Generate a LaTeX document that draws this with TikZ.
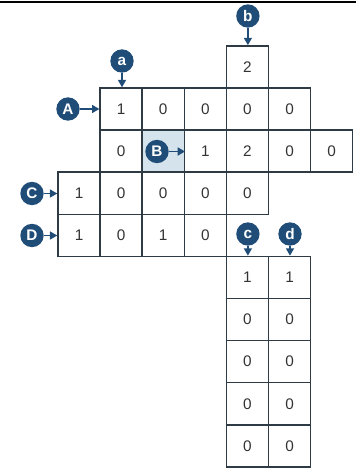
\documentclass[tikz,border=0pt]{standalone}
\usepackage{fontspec}
\setmainfont{Liberation Sans}
\usetikzlibrary{arrows.meta}
\definecolor{navy}{HTML}{1F4D78}
\definecolor{gridline}{HTML}{2E3A44}
\definecolor{shade}{HTML}{D5E3EC}
\definecolor{digit}{HTML}{333333}
\tikzset{
  cell/.style={draw=gridline, line width=1.1pt, fill=white, minimum width=31.575pt, minimum height=31.575pt, inner sep=0pt, text=digit, font=\fontsize{11.5}{12}\selectfont},
  lbl/.style={circle, fill=navy, text=white, minimum size=17.5pt, inner sep=0pt, font=\bfseries\fontsize{11.5}{11.5}\selectfont},
  ptr/.style={navy, line width=1.1pt, -{Triangle[length=5.5pt,width=6pt]}}
}
\begin{document}
\begin{tikzpicture}[x=0.75pt,y=-0.75pt]
\useasboundingbox (0,0) rectangle (356,468);
\draw[line width=1.9pt] (0,2) -- (356,2);
% row A
\foreach \v [count=\i] in {1,0,0,0,0}
  \node[cell] (A\i) at ({58+42.1*(\i+0.5)},{88+42.1*0.5}) {\v};
% cell b
\node[cell] (bb) at ({58+42.1*4.5},{88-42.1*0.5}) {2};
% row B
\foreach \i/\v in {1/0,3/1,4/2,5/0,6/0}
  \node[cell] (B\i) at ({58+42.1*(\i+0.5)},{88+42.1*1.5}) {\v};
\node[cell, fill=shade] (B2) at ({58+42.1*2.5},{88+42.1*1.5}) {};
% row C
\foreach \v [count=\i from 0] in {1,0,0,0,0}
  \node[cell] (C\i) at ({58+42.1*(\i+0.5)},{88+42.1*2.5}) {\v};
% row D
\foreach \v [count=\i from 0] in {1,0,1,0}
  \node[cell] (D\i) at ({58+42.1*(\i+0.5)},{88+42.1*3.5}) {\v};
% columns c and d
\foreach \v [count=\i] in {1,0,0,0,0}{
  \node[cell] (c\i) at ({58+42.1*4.5},{88+42.1*(\i+3.5)}) {\v};
  \node[cell] (d\i) at ({58+42.1*5.5},{88+42.1*(\i+3.5)}) {\v};
}
% labels
\node[lbl] (la) at (122,61) {a};
\node[lbl] (lb) at (247.9,16) {b};
\node[lbl] (lA) at (68,109) {A};
\node[lbl] (lB) at (157,151.5) {B};
\node[lbl] (lC) at (32,193.5) {C};
\node[lbl] (lD) at (32,235.5) {D};
\node[lbl] (lc) at (247.9,234) {c};
\node[lbl] (ld) at (290,234) {d};
\draw[ptr] (la) -- (la |- A1.north);
\draw[ptr] (lb) -- (lb |- bb.north);
\draw[ptr] (lA) -- (lA -| A1.west);
\draw[ptr] (lB) -- (lB -| B2.east);
\draw[ptr] (lC) -- (lC -| C0.west);
\draw[ptr] (lD) -- (lD -| D0.west);
\draw[ptr] (lc) -- (lc |- c1.north);
\draw[ptr] (ld) -- (ld |- d1.north);
\end{tikzpicture}
\end{document}
